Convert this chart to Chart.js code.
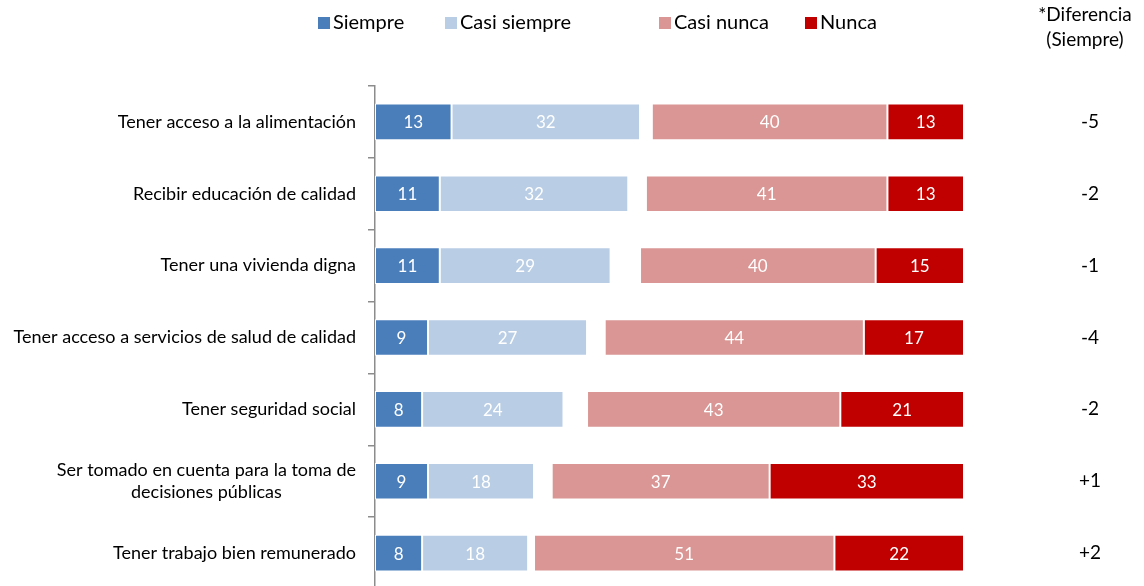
<!DOCTYPE html>
<html>
<head>
<meta charset="utf-8">
<script src="https://cdn.jsdelivr.net/npm/chart.js@4"></script>
<style>
  html, body { margin: 0; padding: 0; background: #fff; overflow: hidden; }
  #wrap { width: 1144px; height: 600px; }
</style>
</head>
<body>
<div id="wrap"><canvas id="chart" width="1144" height="600"></canvas></div>
<script>
const categories = [
    "Tener acceso a la alimentación",
    ["Recibir educación de calidad"],
    "Tener una vivienda digna",
    "Tener acceso a servicios de salud de calidad",
    "Tener seguridad social",
    ["Ser tomado en cuenta para la toma de", "decisiones públicas"],
    "Tener trabajo bien remunerado"
];
const siempre = [13, 11, 11, 9, 8, 9, 8];
const casiSiempre = [32, 32, 29, 27, 24, 18, 18];
const noSabe = [2, 3, 5, 3, 4, 3, 1];
const casiNunca = [40, 41, 40, 44, 43, 37, 51];
const nunca = [13, 13, 15, 17, 21, 33, 22];
const diferencia = ["-5", "-2", "-1", "-4", "-2", "+1", "+2"];

const font = "Lato, 'Open Sans', sans-serif";

// labels inside the segments
const segmentLabels = {
    id: "segmentLabels",
    afterDatasetsDraw(chart) {
        const ctx = chart.ctx;
        ctx.save();
        ctx.fillStyle = "#fff";
        ctx.font = "17px " + font;
        ctx.textAlign = "center";
        ctx.textBaseline = "middle";
        chart.data.datasets.forEach(function(ds, i) {
            if (!ds.label) return;
            chart.getDatasetMeta(i).data.forEach(function(bar, j) {
                const x = (bar.base + bar.x) / 2;
                ctx.fillText(ds.data[j], x, bar.y + 1);
            });
        });
        ctx.restore();
    }
};

// category labels, legend and difference column
const extras = {
    id: "extras",
    afterDraw(chart) {
        const ctx = chart.ctx;
        const y = chart.scales.y;
        ctx.save();
        ctx.fillStyle = "#000";
        ctx.font = "18px " + font;
        ctx.textBaseline = "middle";

        categories.forEach(function(cat, i) {
            const lines = Array.isArray(cat) ? cat : [cat];
            const cy = y.getPixelForValue(i);
            const right = 356;
            let w = 0;
            lines.forEach(function(l) { w = Math.max(w, ctx.measureText(l).width); });
            const mid = right - w / 2;
            ctx.textAlign = "center";
            lines.forEach(function(l, k) {
                const ly = cy + (k - (lines.length - 1) / 2) * 22;
                ctx.fillText(l, mid, ly);
            });
        });

        // difference column
        ctx.textAlign = "center";
        ctx.font = "19px " + font;
        ctx.fillText("*Diferencia", 1085, 15);
        ctx.fillText("(Siempre)", 1085, 40);
        diferencia.forEach(function(d, i) {
            ctx.fillText(d, 1090, y.getPixelForValue(i));
        });

        // legend
        const legendX = [318, 445, 659, 805];
        ctx.font = "20px " + font;
        ctx.textAlign = "left";
        let n = 0;
        chart.data.datasets.forEach(function(ds) {
            if (!ds.label) return;
            const x = legendX[n++];
            ctx.fillStyle = ds.backgroundColor;
            ctx.fillRect(x, 17, 12, 12);
            ctx.fillStyle = "#000";
            ctx.fillText(ds.label, x + 15, 23);
        });
        ctx.restore();
    }
};

const ctx = document.getElementById("chart").getContext("2d");

new Chart(ctx, {
    type: "bar",
    data: {
        labels: categories,
        datasets: [
            { label: "Siempre", data: siempre, backgroundColor: "#4A7EBB" },
            { label: "Casi siempre", data: casiSiempre, backgroundColor: "#B9CDE5" },
            { label: "", data: noSabe, backgroundColor: "rgba(0,0,0,0)", borderWidth: 0 },
            { label: "Casi nunca", data: casiNunca, backgroundColor: "#D99694" },
            { label: "Nunca", data: nunca, backgroundColor: "#C00000" }
        ]
    },
    options: {
        indexAxis: "y",
        responsive: false,
        animation: false,
        events: [],
        layout: { padding: { top: 86, bottom: 11, right: 180, left: 0 } },
        datasets: {
            bar: {
                barPercentage: 0.51,
                categoryPercentage: 1,
                borderColor: "#fff",
                borderWidth: 1,
                borderSkipped: false
            }
        },
        plugins: {
            legend: { display: false },
            tooltip: { enabled: false }
        },
        scales: {
            x: {
                stacked: true,
                min: 0,
                max: 100,
                display: false
            },
            y: {
                stacked: true,
                ticks: { display: false },
                grid: {
                    offset: true,
                    drawOnChartArea: false,
                    drawTicks: true,
                    tickLength: 7,
                    color: "#8c8c8c",
                    lineWidth: 1.5
                },
                border: { display: true, color: "#8c8c8c", width: 1.5 },
                afterFit: function(scale) { scale.width = 375; }
            }
        }
    },
    plugins: [segmentLabels, extras]
});
</script>
</body>
</html>
